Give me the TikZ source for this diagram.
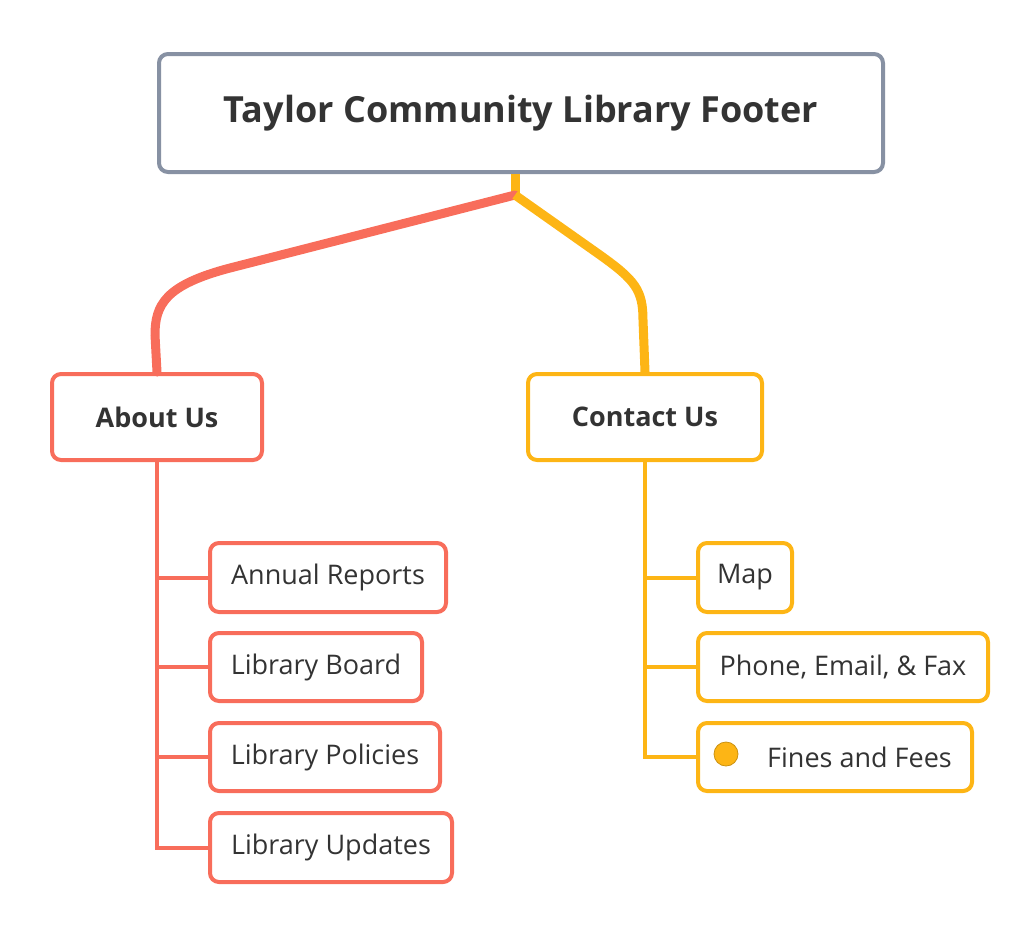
\documentclass[tikz,border=0pt]{standalone}
\usepackage{fontspec}
\setmainfont{Open Sans}
\definecolor{topicred}{HTML}{F86D5B}
\definecolor{topicyel}{HTML}{FDB515}
\definecolor{rootgray}{HTML}{8791A3}
\definecolor{inkgray}{HTML}{333333}
\tikzset{
  box/.style={draw, line width=4pt, rounded corners=9pt, text=inkgray, anchor=north west, inner sep=0pt},
  leaf/.style={box, font=\fontsize{27}{32}\selectfont, align=left, inner xsep=16pt},
  branch/.style={line width=4pt}
}
\begin{document}
\begin{tikzpicture}[x=1pt, y=-1pt]
    \useasboundingbox (0,0) rectangle (1036,930);
    \node[box, draw=rootgray, minimum width=724, minimum height=118, font=\fontsize{36}{42}\selectfont\bfseries] (root) at (157,52) {Taylor Community Library Footer};
    \node[box, draw=topicred, minimum width=210, minimum height=86, font=\fontsize{27}{32}\selectfont\bfseries] (about) at (50,372) {About Us};
    \node[box, draw=topicyel, minimum width=234, minimum height=86, font=\fontsize{27}{32}\selectfont\bfseries] (contact) at (526,372) {Contact Us};

    \node[leaf, draw=topicred, minimum width=236, minimum height=69] (annual) at (208,541) {Annual Reports};
    \node[leaf, draw=topicred, minimum width=212, minimum height=68] (board) at (208,631) {Library Board};
    \node[leaf, draw=topicred, minimum width=230, minimum height=68] (policies) at (208,721) {Library Policies};
    \node[leaf, draw=topicred, minimum width=242, minimum height=69] (updates) at (208,811) {Library Updates};

    \node[leaf, draw=topicyel, minimum width=94, minimum height=69] (map) at (696,541) {Map};
    \node[leaf, draw=topicyel, minimum width=290, minimum height=68] (phone) at (696,631) {Phone, Email, \& Fax};
    \node[leaf, draw=topicyel, minimum width=274, minimum height=68] (fines) at (696,721) {\hspace*{49pt}Fines and Fees};
    \node[circle, fill=topicyel, draw=topicyel!80!black, line width=0.8pt, minimum size=24, inner sep=0pt] (finesdot) at (726,754) {};

    \coordinate (fork) at (515,195);
    \draw[topicyel, line width=9pt] (root.south -| fork) -- (fork);
    \draw[topicred, line width=9pt, line cap=round] (fork) -- (230,268) .. controls (165,285) and (155,305) .. (155,335) -- (about.north);
    \draw[topicyel, line width=9pt] (fork) -- (600,255) .. controls (635,280) and (643,290) .. (643,320) -- (contact.north);

    \draw[topicred, branch] (about.south) |- (updates.west);
    \foreach \n in {annual, board, policies}
        \draw[topicred, branch] (about.south |- \n.west) -- (\n.west);
    \draw[topicyel, branch] (contact.south) |- (fines.west);
    \foreach \n in {map, phone}
        \draw[topicyel, branch] (contact.south |- \n.west) -- (\n.west);
\end{tikzpicture}
\end{document}
